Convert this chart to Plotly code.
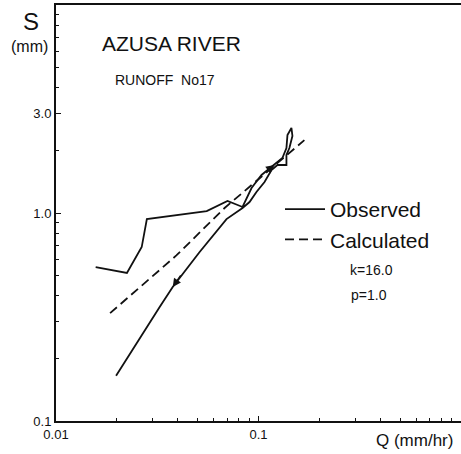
import math
import plotly.graph_objects as go

# Observed hysteresis loop (rising limb -> peak loop -> recession)
obs_q = [0.0157, 0.0224, 0.0265, 0.0281, 0.0555, 0.0703, 0.0834, 0.0924, 0.1035,
         0.1199, 0.1312, 0.1374, 0.139, 0.1454, 0.1471, 0.1421, 0.1374, 0.1374,
         0.124, 0.1159, 0.1071, 0.0977, 0.0903, 0.0834, 0.0695, 0.0512, 0.0377,
         0.0325, 0.0198]
obs_s = [0.549, 0.515, 0.686, 0.935, 1.022, 1.142, 1.069, 1.319, 1.523,
         1.701, 1.838, 2.053, 2.371, 2.563, 2.345, 2.053, 1.900, 1.701,
         1.701, 1.609, 1.41, 1.262, 1.129, 1.057, 0.935, 0.649, 0.441,
         0.353, 0.165]

# Calculated curve (k=16.0, p=1.0)
calc_q = [0.0185, 0.0393, 0.068, 0.1685]
calc_s = [0.330, 0.625, 1.057, 2.24]

y_tickvals = [0.1, 1.0, 3.0]
y_ticktext = ["0.1", "1.0", "3.0"]
x_tickvals = [0.01, 0.1]
x_ticktext = ["0.01", "0.1"]

FONT = "Liberation Sans"
INK = "#111111"

fig = go.Figure()
fig.add_trace(go.Scatter(x=obs_q, y=obs_s, mode="lines", name="Observed",
                         line=dict(color=INK, width=1.8)))
fig.add_trace(go.Scatter(x=calc_q, y=calc_s, mode="lines", name="Calculated",
                         line=dict(color=INK, width=1.8, dash="9px,5px")))

minor_y = [v * m for v in (0.1, 1.0) for m in range(2, 10)]
minor_x = [v * m for v in (0.01, 0.1) for m in range(2, 10)]

fig.update_xaxes(type="log", range=[-2, 0], showgrid=False, zeroline=False,
                 showline=True, linecolor=INK, linewidth=2, mirror=True,
                 ticks="inside", ticklen=5, tickcolor=INK,
                 tickmode="array", tickvals=x_tickvals, ticktext=x_ticktext,
                 tickfont=dict(family=FONT, size=13, color=INK),
                 minor=dict(tickmode="array", tickvals=minor_x, ticks="inside",
                            ticklen=3, tickcolor=INK))
fig.update_yaxes(type="log", range=[-1, 1], showgrid=False, zeroline=False,
                 showline=True, linecolor=INK, linewidth=2,
                 ticks="inside", ticklen=5, tickcolor=INK,
                 tickmode="array", tickvals=y_tickvals, ticktext=y_ticktext,
                 tickfont=dict(family=FONT, size=13, color=INK),
                 minor=dict(tickmode="array", tickvals=minor_y, ticks="inside",
                            ticklen=3, tickcolor=INK))

def arrow(i, ax, ay):
    return dict(x=math.log10(obs_q[i]), y=math.log10(obs_s[i]), xref="x", yref="y",
                text="", showarrow=True, arrowhead=2, arrowsize=1.2,
                arrowwidth=1.4, arrowcolor=INK, ax=ax, ay=ay, standoff=0)

# text labels: (text, page-x px, page-y px, font size)
labels = [
    ("AZUSA RIVER", 171, 43, 21),
    ("RUNOFF  No17", 165, 80, 14),
    ("S", 31, 22, 24),
    ("(mm)", 30, 47, 16),
    ("Q (mm/hr)", 414, 440, 17),
    ("k=16.0", 371, 270, 14),
    ("p=1.0", 369, 295, 14),
]
ann = []
for text, px, py, size in labels:
    ann.append(dict(text=text, x=(px - 56) / 405, y=(421 - py) / 416,
                    xref="paper", yref="paper", showarrow=False,
                    xanchor="center", yanchor="middle",
                    font=dict(family=FONT, size=size, color=INK)))
ann.append(arrow(26, 9, -13))
ann.append(arrow(9, -9, 7))

fig.update_layout(
    width=461, height=454,
    margin=dict(l=56, r=0, t=5, b=33),
    paper_bgcolor="white", plot_bgcolor="white",
    showlegend=True,
    legend=dict(x=(280 - 56) / 405, y=(421 - 189) / 416, xanchor="left", yanchor="top",
                bgcolor="rgba(0,0,0,0)", font=dict(family=FONT, size=21, color=INK),
                itemwidth=40),
    annotations=ann,
)

fig.write_html("out.html", config={"displayModeBar": False},
               post_script="document.body.style.margin='0';document.body.style.padding='0';")
